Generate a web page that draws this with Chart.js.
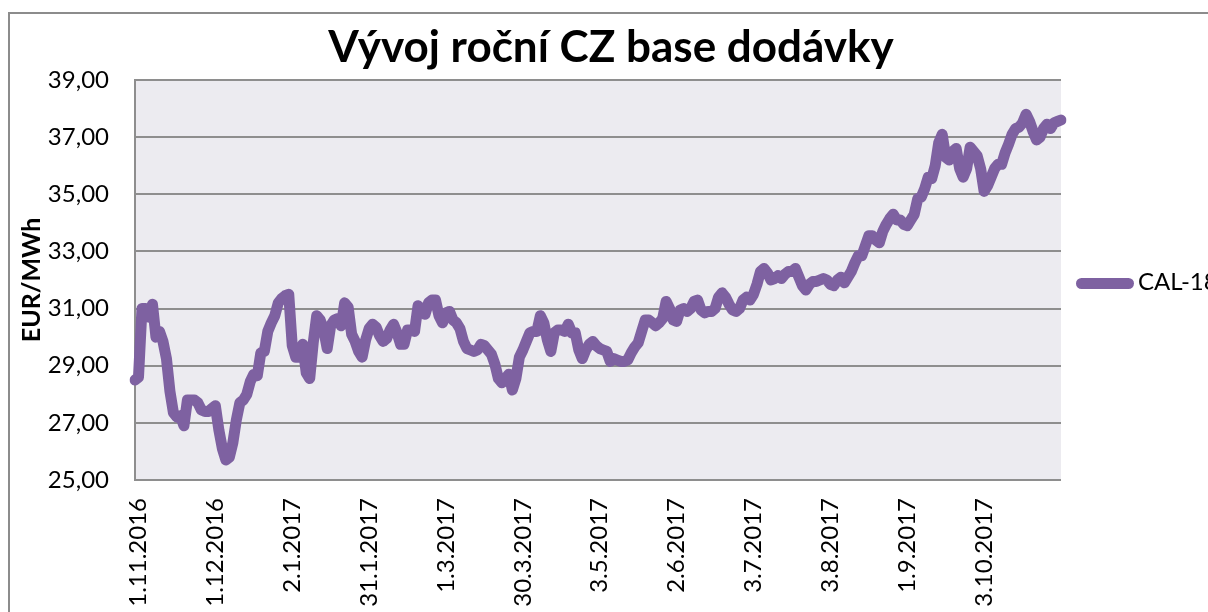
<!DOCTYPE html>
<html lang="cs">
<head>
<meta charset="utf-8">
<title>Vývoj roční CZ base dodávky</title>
<script src="https://cdn.jsdelivr.net/npm/chart.js@4"></script>
<style>
  html, body { margin: 0; padding: 0; background: #fff; overflow: hidden; }
  #wrap { position: relative; width: 1208px; height: 612px; overflow: hidden; }
  #frame { position: absolute; left: 8px; top: 12px; width: 1400px; height: 800px; border: 2px solid #8c8c8c; }
  #chart { position: absolute; left: 0; top: 0; }
  #legend { position: absolute; left: 1076px; top: 266px; font: 24px Lato, sans-serif; color: #000; white-space: nowrap; }
  #legend .bar { display: inline-block; width: 58px; height: 11px; border-radius: 5.5px; vertical-align: middle; margin-right: 4px; }
</style>
</head>
<body>
<div id="wrap">
  <div id="frame"></div>
  <canvas id="chart" width="1208" height="612"></canvas>
  <div id="legend"></div>
</div>
<script>
"use strict";

// series name and colours
const seriesName = 'CAL-18';
const lineColor = '#7e61a1';
const plotBg = '#ecebf0';
const gridColor = '#8e8e8e';

// x tick labels (one every 22 trading days, starting at the 2nd sample)
const tickLabels = ['1.11.2016', '1.12.2016', '2.1.2017', '31.1.2017', '1.3.2017', '30.3.2017',
  '3.5.2017', '2.6.2017', '3.7.2017', '3.8.2017', '1.9.2017', '3.10.2017'];
const tickStart = 1;
const tickEvery = 22;

// y axis ticks
const yTicks = [25, 27, 29, 31, 33, 35, 37, 39];

// daily price EUR/MWh
const prices = [
  28.5, 28.6, 31.0, 31.0, 30.7, 31.15, 30.0, 30.2, 29.85, 29.25,
  28.1, 27.35, 27.2, 27.25, 26.9, 27.8, 27.8, 27.8, 27.7, 27.45,
  27.4, 27.4, 27.5, 27.6, 26.75, 26.1, 25.7, 25.8, 26.3, 27.1,
  27.7, 27.8, 28.0, 28.45, 28.7, 28.65, 29.45, 29.5, 30.2, 30.5,
  30.75, 31.2, 31.35, 31.45, 31.5, 29.7, 29.3, 29.3, 29.75, 28.75,
  28.55, 29.8, 30.75, 30.6, 30.25, 29.6, 30.4, 30.6, 30.65, 30.4,
  31.2, 31.05, 30.1, 29.85, 29.5, 29.3, 29.9, 30.3, 30.45, 30.35,
  30.05, 29.85, 29.95, 30.25, 30.45, 30.15, 29.75, 29.75, 30.25, 30.25,
  30.2, 31.1, 30.95, 30.8, 31.2, 31.3, 31.3, 30.75, 30.5, 30.85,
  30.9, 30.6, 30.5, 30.3, 29.85, 29.6, 29.55, 29.5, 29.55, 29.75,
  29.7, 29.55, 29.4, 29.05, 28.55, 28.4, 28.55, 28.7, 28.15, 28.55,
  29.3, 29.55, 29.85, 30.15, 30.2, 30.2, 30.75, 30.5, 29.9, 29.5,
  30.15, 30.25, 30.25, 30.2, 30.45, 30.15, 30.15, 29.55, 29.25, 29.55,
  29.75, 29.85, 29.7, 29.6, 29.55, 29.5, 29.15, 29.25, 29.2, 29.15,
  29.15, 29.2, 29.45, 29.65, 29.8, 30.2, 30.6, 30.6, 30.5, 30.4,
  30.5, 30.65, 31.25, 31.0, 30.6, 30.55, 30.95, 31.0, 30.9, 31.0,
  31.25, 31.3, 30.95, 30.85, 30.9, 30.9, 31.0, 31.4, 31.55, 31.4,
  31.15, 30.95, 30.9, 31.0, 31.3, 31.4, 31.3, 31.5, 31.85, 32.3,
  32.4, 32.25, 32.0, 32.05, 32.15, 32.05, 32.2, 32.3, 32.3, 32.4,
  32.1, 31.8, 31.65, 31.85, 31.95, 31.95, 32.0, 32.05, 32.0, 31.85,
  31.8, 32.0, 32.1, 31.9, 32.1, 32.3, 32.6, 32.85, 32.85, 33.2,
  33.55, 33.55, 33.4, 33.3, 33.7, 33.95, 34.15, 34.3, 34.1, 34.1,
  33.95, 33.9, 34.1, 34.3, 34.85, 34.9, 35.2, 35.6, 35.55, 36.0,
  36.8, 37.1, 36.3, 36.2, 36.5, 36.6, 35.9, 35.6, 35.9, 36.65,
  36.5, 36.35, 35.9, 35.1, 35.3, 35.6, 35.9, 36.05, 36.05, 36.45,
  36.75, 37.1, 37.3, 37.35, 37.5, 37.8, 37.55, 37.2, 36.9, 37.0,
  37.3, 37.45, 37.3, 37.5, 37.55, 37.6
];

// category labels: only the labelled days carry text
const categories = prices.map((_, i) =>
  (i >= tickStart && (i - tickStart) % tickEvery === 0) ? (tickLabels[(i - tickStart) / tickEvery] || '') : '');

const plotBackground = {
  id: 'plotBackground',
  beforeDraw(chart) {
    const { ctx, chartArea: a } = chart;
    ctx.save();
    ctx.fillStyle = plotBg;
    ctx.fillRect(a.left, a.top, a.right - a.left, a.bottom - a.top);
    ctx.restore();
  }
};

new Chart(document.getElementById('chart'), {
  type: 'line',
  data: {
    labels: categories,
    datasets: [{
      label: seriesName,
      data: prices,
      borderColor: lineColor,
      borderWidth: 11,
      borderJoinStyle: 'round',
      borderCapStyle: 'round',
      pointRadius: 0,
      tension: 0,
      fill: false,
    }]
  },
  options: {
    responsive: false,
    animation: false,
    layout: { padding: { left: 14, right: 0, top: 0, bottom: 0 } },
    plugins: {
      legend: { display: false },
      tooltip: { enabled: false },
      title: {
        display: true,
        text: 'Vývoj roční CZ base dodávky',
        color: '#000',
        font: { family: 'Lato', size: 44, weight: 'bold' },
        padding: { top: 21, bottom: 6.2 }
      }
    },
    scales: {
      x: {
        grid: { display: false, drawTicks: false },
        border: { display: false },
        afterBuildTicks: s => { s.ticks = s.ticks.filter(t => categories[t.value]); },
        afterFit: s => { s.height = 132; },
        ticks: {
          autoSkip: false,
          maxRotation: 90,
          minRotation: 90,
          padding: 18,
          color: '#000',
          font: { family: 'Lato', size: 24 }
        }
      },
      y: {
        min: yTicks[0],
        max: yTicks[yTicks.length - 1],
        afterBuildTicks: s => { s.ticks = yTicks.map(v => ({ value: v })); },
        afterFit: s => { s.width = 121; },
        grid: { color: gridColor, lineWidth: 2, drawTicks: false },
        border: { display: true, color: gridColor, width: 2 },
        title: {
          display: true,
          text: 'EUR/MWh',
          color: '#000',
          font: { family: 'Lato', size: 25, weight: 'bold' },
          padding: { top: 3, bottom: 0 }
        },
        ticks: {
          padding: 26,
          color: '#000',
          font: { family: 'Lato', size: 24 },
          callback: v => v.toFixed(2).replace('.', ',')
        }
      },
      // empty right-hand box that keeps room for the legend
      yRight: {
        position: 'right',
        min: yTicks[0],
        max: yTicks[yTicks.length - 1],
        afterFit: s => { s.width = 147; },
        grid: { display: false, drawTicks: false },
        border: { display: false },
        ticks: { display: false }
      }
    }
  },
  plugins: [plotBackground]
});

document.getElementById('legend').innerHTML =
  `<span class="bar" style="background:${lineColor}"></span>${seriesName}`;
</script>
</body>
</html>
